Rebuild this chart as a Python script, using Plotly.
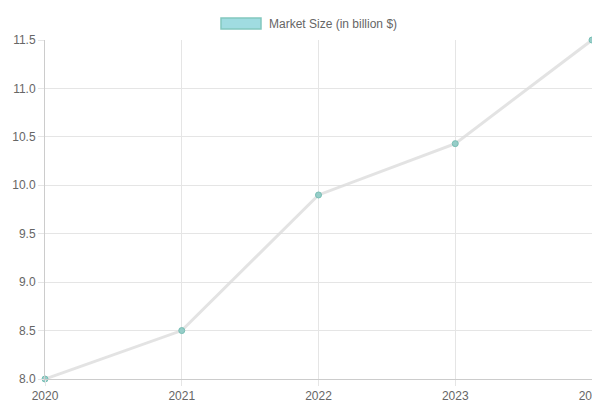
import plotly.graph_objects as go

years = ["2020", "2021", "2022", "2023", "2025"]
market_size = [8.0, 8.5, 9.9, 10.43, 11.5]

fig = go.Figure()
fig.add_trace(go.Scatter(
    x=years, y=market_size, mode="lines+markers", cliponaxis=False,
    name="Market Size (in billion $)", showlegend=False,
    line=dict(color="rgba(220,220,220,0.8)", width=3),
    marker=dict(size=6, color="rgba(150,205,200,1)",
                line=dict(color="rgba(120,190,180,1)", width=1)),
))

# chart.js style legend box
fig.add_shape(type="rect", xref="paper", yref="paper",
              x0=(213 - 37) / 547, x1=(253 - 37) / 547,
              y0=(371 - 10) / 339, y1=(371 - 21) / 339,
              fillcolor="rgba(160,220,225,1)",
              line=dict(color="rgba(130,200,190,1)", width=1.5))
fig.add_annotation(xref="paper", yref="paper", x=(259 - 37) / 547, y=(371 - 15.5) / 339,
                   text="Market Size (in billion $)", showarrow=False,
                   xanchor="left", yanchor="middle",
                   font=dict(size=12, color="#666"))

fig.update_layout(
    width=600, height=400,
    margin=dict(l=37, r=16, t=32, b=29, autoexpand=False),
    plot_bgcolor="white", paper_bgcolor="white",
    font=dict(family="Liberation Sans, Arial", size=12, color="#666"),
    xaxis=dict(type="category", range=[0, 4], showgrid=True, gridcolor="#e5e5e5",
               showline=True, linecolor="#ccc", ticks="outside", ticklen=6,
               tickcolor="#e5e5e5", automargin=False),
    yaxis=dict(range=[8.0, 11.5], dtick=0.5, tickformat=".1f", showgrid=True,
               gridcolor="#e5e5e5", showline=True, linecolor="#ccc",
               ticks="outside", ticklen=6, tickcolor="#e5e5e5", zeroline=False,
               automargin=False),
)

fig.write_html("out.html")
